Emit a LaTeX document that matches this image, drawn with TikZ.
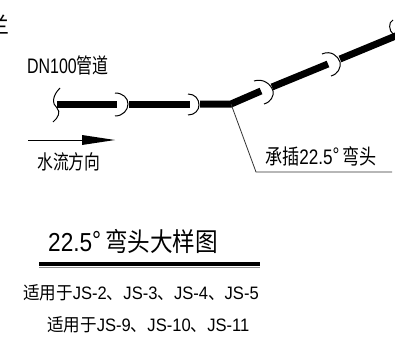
\documentclass[tikz,border=0pt]{standalone}
\usepackage{fontspec}
\setmainfont{Liberation Sans}
\newfontfamily\cjk{Noto Sans CJK SC}
\newcommand{\cn}[1]{{\cjk #1}}
\newcommand{\sq}[2]{\scalebox{#1}[1]{#2}}
\tikzset{
  pipe/.style={line width=7pt,line cap=butt,line join=miter},
  socket/.style={line width=1pt},
  thin leader/.style={line width=0.8pt,black!80},
  lab/.style={inner sep=0pt,anchor=west,text=black}
}
\begin{document}
\begin{tikzpicture}[x=1pt,y=-1pt]
\useasboundingbox (0,0) rectangle (395,337);
\begin{scope}
\clip (0,0) rectangle (395,337);
\node[lab,font=\fontsize{22}{22}\selectfont] (frag) at (-13,25) {\cn{兰}};
% pipes
\coordinate (bend) at (231,104);
\draw[pipe] (57,104) -- (117,104);
\draw[pipe] (129,104) -- (190,104);
\draw[pipe] (200,104) -- (bend) -- (261,91);
\draw[pipe] (272,87) -- (328,64);
\draw[pipe] (340,59) -- (398,35);
% sockets
\draw[socket] (60,88) .. controls (52,96) and (52,104) .. (57,108) .. controls (61,112) and (58,118) .. (53,122);
\draw[socket] (115,93) .. controls (123,93) and (128,98) .. (128,104) .. controls (128,110) and (123,116) .. (115,116);
\draw[socket] (188,94) .. controls (195,94) and (199,99) .. (199,105) .. controls (199,110) and (195,115) .. (188,115);
\draw[socket] (254,81) .. controls (263,78) and (271,84) .. (273,91) .. controls (274,96) and (271,102) .. (264,104);
\draw[socket] (322,54) .. controls (331,50) and (338,56) .. (340,62) .. controls (341,68) and (338,74) .. (331,76);
\draw[socket] (393,20) .. controls (388,22) and (389,31) .. (393,34);
% leader
\coordinate (lk) at (256,172);
\coordinate (le) at (392,172);
\draw[thin leader] (bend) -- (lk) -- (le);
% flow arrow
\coordinate (fa) at (28,140);
\coordinate (fb) at (82,140);
\coordinate (fc) at (115,140);
\draw[line width=0.8pt] (fa) -- (fb);
\fill (82,135) -- (fc) -- (82,145) -- cycle;
% title rule
\draw[line width=3.5pt] (39,264) -- (260,264);
\draw[line width=0.7pt,black!45] (39,267) -- (260,267);
% texts
\node[lab] (t1) at (27,65) {\sq{0.76}{\fontsize{21}{21}\selectfont DN100\cn{管道}}};
\node[lab] (t2) at (37,162) {\sq{0.79}{\fontsize{20}{20}\selectfont\cn{水流方向}}};
\node[lab] (t3) at (265,156) {\sq{0.815}{\fontsize{21}{21}\selectfont\cn{承插}22.5\raisebox{.15ex}{°}\,\cn{弯头}}};
\node[lab] (t4) at (48,241) {\sq{0.87}{\fontsize{26}{26}\selectfont 22.5\raisebox{.1ex}{°}\,\cn{弯头大样图}}};
\node[lab] (t5) at (23,293) {\sq{0.92}{\fontsize{18}{18}\selectfont\cn{适用于}JS-2\cn{、}JS-3\cn{、}JS-4\cn{、}JS-5}};
\node[lab] (t6) at (47,325) {\sq{0.92}{\fontsize{18}{18}\selectfont\cn{适用于}JS-9\cn{、}JS-10\cn{、}JS-11}};
\end{scope}
\end{tikzpicture}
\end{document}
